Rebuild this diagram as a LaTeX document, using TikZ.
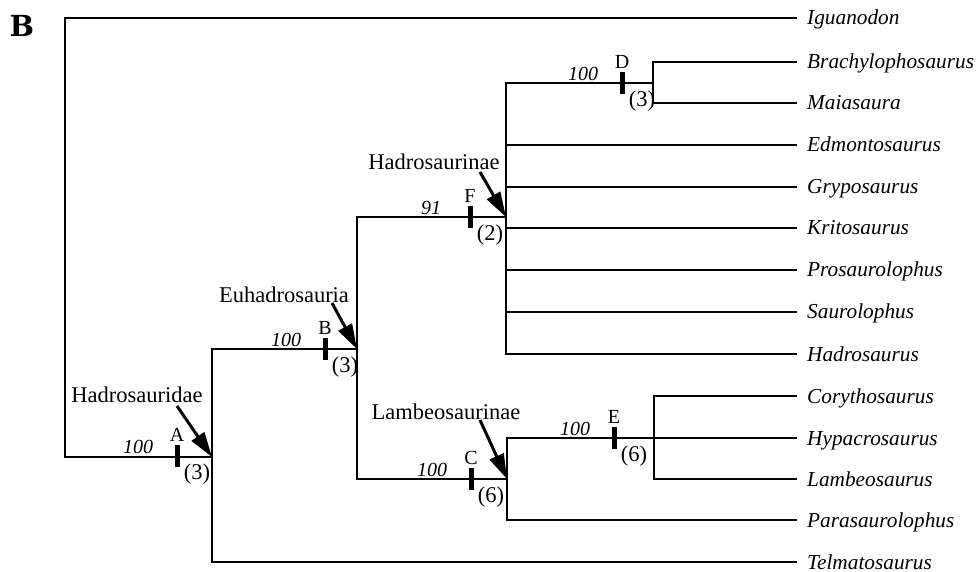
\documentclass[tikz,border=0pt]{standalone}
\usepackage{fontspec}
\setmainfont{Liberation Serif}
\newfontfamily\panelfont{DejaVu Serif}
\usetikzlibrary{arrows.meta}
\begin{document}
\begin{tikzpicture}[x=1pt,y=-1pt,
  branch/.style={line width=2pt, line join=miter},
  leaf/.style={anchor=west, inner xsep=10pt, inner ysep=0pt, text height=14pt, text depth=0pt, font=\fontsize{21.3}{25}\selectfont\itshape},
  tickmark/.style={fill=black, minimum width=5pt, minimum height=22pt, inner sep=0pt},
  support/.style={font=\fontsize{20}{24}\selectfont\itshape, inner sep=0pt},
  letter/.style={font=\fontsize{20}{24}\selectfont, inner sep=0pt},
  count/.style={font=\fontsize{22.5}{26}\selectfont, inner sep=0pt},
  clade/.style={font=\fontsize{22.5}{26}\selectfont, inner sep=0pt},
  pointer/.style={line width=3pt, -{Triangle[length=25pt,width=15pt]}}]
\useasboundingbox (0,0) rectangle (978,572);

\node[font=\panelfont\bfseries\fontsize{29}{32}\selectfont, inner sep=0pt] (panel) at (22,26) {B};

% leaves
\node[leaf] (igu)  at (797,18)  {Iguanodon};
\node[leaf] (brach) at (797,62) {Brachylophosaurus};
\node[leaf] (maia) at (797,103) {Maiasaura};
\node[leaf] (edmo) at (797,145) {Edmontosaurus};
\node[leaf] (gryp) at (797,187) {Gryposaurus};
\node[leaf] (krit) at (797,228) {Kritosaurus};
\node[leaf] (pros) at (797,270) {Prosaurolophus};
\node[leaf] (saur) at (797,312) {Saurolophus};
\node[leaf] (hadr) at (797,354) {Hadrosaurus};
\node[leaf] (cory) at (797,396) {Corythosaurus};
\node[leaf] (hypa) at (797,438) {Hypacrosaurus};
\node[leaf] (lamb) at (797,479) {Lambeosaurus};
\node[leaf] (para) at (797,520) {Parasaurolophus};
\node[leaf] (telm) at (797,562) {Telmatosaurus};

% internal nodes
\coordinate (r)  at (65,457);
\coordinate (nA) at (212,457);
\coordinate (nB) at (357,349);
\coordinate (nF) at (506,217);
\coordinate (nD) at (653,83);
\coordinate (nC) at (507,479);
\coordinate (nE) at (654,438);

% branches
\draw[branch] (igu.west) -| (r) -- (nA);
\draw[branch] (nB) -| (nA) |- (telm.west);
\draw[branch] (nF) -| (nB) |- (nC);
\draw[branch] (nD) -| (nF) |- (hadr.west);
\draw[branch] (brach.west) -| (nD) |- (maia.west);
\foreach \t in {edmo,gryp,krit,pros,saur}
  \draw[branch] (nF |- \t.west) -- (\t.west);
\draw[branch] (nE) -| (nC) |- (para.west);
\draw[branch] (cory.west) -| (nE) |- (lamb.west);
\draw[branch] (nE) -- (hypa.west);

% ticks and labels
\foreach \n/\x/\y/\l/\c/\s in {A/177/456/A/(3)/100, B/325/349/B/(3)/100, F/470/217/F/(2)/91, D/622/83/D/(3)/100, C/471/479/C/(6)/100, E/614/438/E/(6)/100}{
  \node[tickmark] (t\n) at (\x,\y) {};
  \node[letter] at ([yshift=21pt]t\n) {\l};
  \node[count] at ([shift={(20pt,-18pt)}]t\n) {\c};
  \node[support] at ([shift={(-39pt,9pt)}]t\n) {\s};
}

% clade names with arrows
\node[clade] (hdae) at (137,395) {Hadrosauridae};
\coordinate (hdaeS) at (177,406);
\draw[pointer] (hdaeS) -- (nA);
\node[clade] (euha) at (284,295) {Euhadrosauria};
\coordinate (euhaS) at (332,303);
\draw[pointer] (euhaS) -- (nB);
\node[clade] (hnae) at (434,162) {Hadrosaurinae};
\coordinate (hnaeS) at (480,172);
\draw[pointer] (hnaeS) -- (nF);
\node[clade] (lnae) at (446,412) {Lambeosaurinae};
\coordinate (lnaeS) at (480,420);
\draw[pointer] (lnaeS) -- (nC);
\end{tikzpicture}
\end{document}
